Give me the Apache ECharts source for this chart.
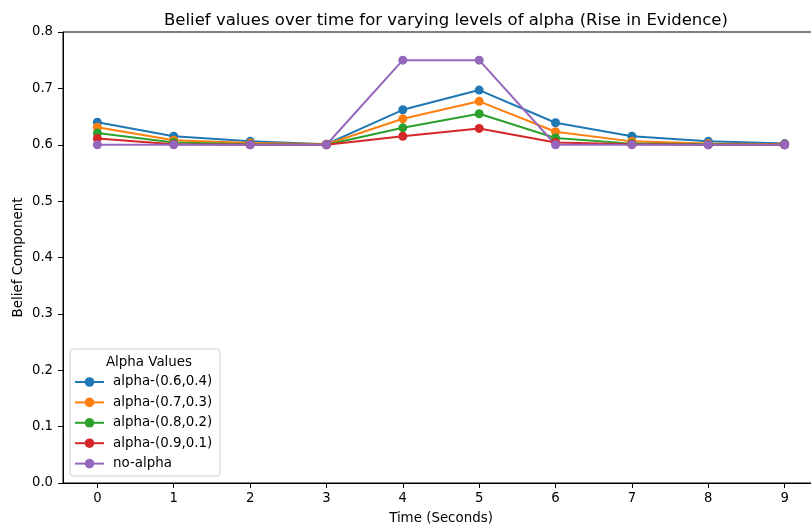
<!DOCTYPE html>
<html>
<head>
<meta charset="utf-8">
<script src="https://cdn.jsdelivr.net/npm/echarts@6/dist/echarts.min.js"></script>
<style>
  html, body { margin: 0; padding: 0; background: #fff; overflow: hidden; }
  #chart { width: 822px; height: 525px; }
</style>
</head>
<body>
<div id="chart"></div>
<script>
// time steps (seconds)
var times = [0, 1, 2, 3, 4, 5, 6, 7, 8, 9];

// belief values
var alpha64 = [0.640, 0.615, 0.606, 0.601, 0.662, 0.697, 0.639, 0.615, 0.606, 0.602];
var alpha73 = [0.631, 0.608, 0.603, 0.601, 0.646, 0.677, 0.623, 0.606, 0.602, 0.601];
var alpha82 = [0.621, 0.604, 0.601, 0.600, 0.630, 0.655, 0.612, 0.602, 0.601, 0.600];
var alpha91 = [0.611, 0.601, 0.600, 0.600, 0.615, 0.629, 0.604, 0.601, 0.600, 0.600];
var noAlpha = [0.600, 0.600, 0.600, 0.600, 0.750, 0.750, 0.600, 0.600, 0.600, 0.600];

var seriesNames = ['alpha-(0.6,0.4)', 'alpha-(0.7,0.3)', 'alpha-(0.8,0.2)', 'alpha-(0.9,0.1)', 'no-alpha'];
var seriesData = [alpha64, alpha73, alpha82, alpha91, noAlpha];
var colors = ['#1f77b4', '#ff7f0e', '#2ca02c', '#d62728', '#9467bd'];

var font = 'DejaVu Sans';

function pairs(vals) {
  return vals.map(function (v, i) { return [times[i], v]; });
}

var series = seriesNames.map(function (name, i) {
  return {
    name: name,
    type: 'line',
    data: pairs(seriesData[i]),
    symbol: 'circle',
    symbolSize: 9,
    lineStyle: { width: 2, color: colors[i] },
    itemStyle: { color: colors[i] },
    emphasis: { disabled: true },
    animation: false
  };
});

var myChart = echarts.init(document.getElementById('chart'), null, { renderer: 'canvas' });

var option = {
  color: colors,
  textStyle: { fontFamily: font },
  title: [{
    text: 'Belief values over time for varying levels of alpha (Rise in Evidence)',
    left: 441, top: 7, textAlign: 'center',
    textStyle: { fontFamily: font, fontSize: 16.5, fontWeight: 'normal', color: '#000' }
  }, {
    text: 'Alpha Values',
    left: 144, top: 351, textAlign: 'center',
    textStyle: { fontFamily: font, fontSize: 13.4, fontWeight: 'normal', color: '#000' }
  }],
  graphic: [{
    type: 'rect',
    shape: { x: 70, y: 349, width: 150, height: 127, r: 3 },
    style: { fill: 'rgba(255,255,255,0.8)', stroke: '#d0d0d0', lineWidth: 1 },
    z: 5
  }],
  legend: {
    orient: 'vertical',
    left: 69, top: 370,
    itemWidth: 29, itemHeight: 12,
    itemGap: 6.4,
    z: 10,
    textStyle: { fontFamily: font, fontSize: 13.4, lineHeight: 14, height: 14, color: '#000', padding: [0, 0, 0, 4] },
    data: seriesNames
  },
  grid: {
    left: 63, right: 3, top: 32, bottom: 42,
    containLabel: false,
    outerBoundsMode: 'none',
    show: true, borderColor: '#000', borderWidth: 1, backgroundColor: 'transparent'
  },
  xAxis: {
    type: 'value',
    min: -0.45, max: 9.45,
    name: 'Time (Seconds)',
    nameLocation: 'middle',
    nameGap: 29,
    nameMoveOverlap: false,
    nameTextStyle: { fontFamily: font, fontSize: 13.4, color: '#000' },
    axisLine: { show: true, onZero: false, lineStyle: { color: '#000', width: 1 } },
    axisTick: { show: true, length: 5, lineStyle: { color: '#000' }, customValues: times },
    axisLabel: { color: '#000', fontSize: 13.2, fontFamily: font, margin: 9, customValues: times },
    splitLine: { show: false }
  },
  yAxis: {
    type: 'value',
    min: 0, max: 0.8, interval: 0.1,
    name: 'Belief Component',
    nameLocation: 'middle',
    nameGap: 38,
    nameMoveOverlap: false,
    nameTextStyle: { fontFamily: font, fontSize: 13.4, color: '#000' },
    axisLine: { show: true, onZero: false, lineStyle: { color: '#000', width: 1 } },
    axisTick: { show: true, length: 5, lineStyle: { color: '#000' } },
    axisLabel: {
      color: '#000', fontSize: 13.2, fontFamily: font, margin: 10,
      formatter: function (v) { return v.toFixed(1); }
    },
    splitLine: { show: false }
  },
  series: series
};

myChart.setOption(option);
</script>
</body>
</html>
